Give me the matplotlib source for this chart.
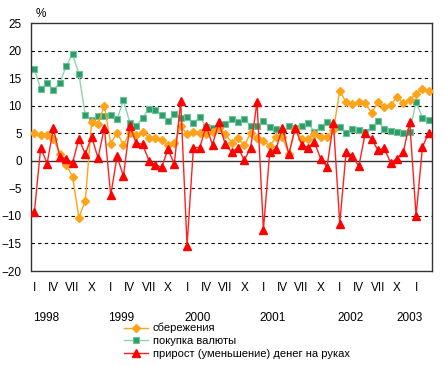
import matplotlib
matplotlib.use("Agg")
import matplotlib.pyplot as plt
import matplotlib.transforms as mtransforms

plt.rcParams['font.family'] = ['Liberation Sans', 'DejaVu Sans']

months = list(range(63))  # Jan 1998 .. Mar 2003

savings = [5.0, 4.7, 4.7, 4.0, 1.3, -0.7, -2.9, -10.3, -7.3, 7.0, 6.7, 10.0,
           3.1, 5.1, 2.9, 5.1, 4.6, 5.3, 4.2, 4.2, 3.8, 2.8, 3.2, 6.3,
           4.8, 5.3, 5.1, 4.8, 5.2, 6.0, 4.9, 3.3, 4.1, 2.8, 5.0, 4.1,
           3.6, 2.7, 4.3, 4.3, 1.2, 5.8, 4.0, 4.0, 4.9, 4.3, 4.4, 5.5,
           12.7, 10.6, 10.3, 10.7, 10.4, 8.7, 10.6, 9.8, 10.1, 11.6, 10.4, 11.0,
           12.2, 13.1, 12.7]

currency = [16.7, 13.0, 14.1, 12.9, 14.1, 17.2, 19.4, 15.7, 8.3, 7.4, 8.1, 8.1,
            8.3, 7.5, 11.0, 6.9, 6.3, 7.8, 9.4, 9.2, 8.3, 7.2, 8.5, 7.8,
            7.9, 6.8, 7.9, 6.2, 6.0, 6.0, 6.7, 7.5, 7.1, 7.6, 6.3, 6.3,
            7.2, 6.1, 5.8, 5.3, 6.3, 6.0, 6.3, 6.85, 5.3, 6.1, 7.1, 6.1,
            6.1, 5.0, 5.8, 5.6, 5.2, 6.1, 7.2, 5.8, 5.4, 5.2, 5.1, 5.3,
            10.7, 7.8, 7.4]

cash = [-9.3, 2.4, -0.5, 5.9, 0.7, 0.4, -0.4, 4.0, 1.2, 4.4, 0.5, 6.0,
        -6.3, 0.8, -2.8, 6.3, 3.2, 3.0, 0.05, -0.7, -1.2, 2.1, -0.6, 10.8,
        -15.4, 2.4, 2.4, 6.3, 2.9, 7.0, 3.0, 1.6, 2.4, 0.1, 2.4, 10.7,
        -12.5, 1.6, 2.2, 6.0, 1.2, 6.0, 2.9, 2.4, 3.4, 0.4, -1.1, 6.9,
        -11.4, 1.6, 0.9, -1.0, 5.0, 4.0, 1.9, 2.3, -0.4, 0.4, 1.6, 7.0,
        -10.0, 2.5, 5.1]

roman = ['I', 'IV', 'VII', 'X']
years = ['1998', '1999', '2000', '2001', '2002', '2003']
year_pos = [1.8, 13.6, 25.6, 37.5, 49.7, 59.0]

labels = ['сбережения', 'покупка валюты', 'прирост (уменьшение) денег на руках']

W, H = 447, 366
fig = plt.figure(figsize=(W / 100, H / 100), dpi=100)
ax = fig.add_axes([31.5 / W, 1 - 271 / H, (432 - 31.5) / W, (271 - 23) / H])

ax.set_xlim(-0.45, 62.5)
ax.set_ylim(-20, 25)

for yv in range(-15, 25, 5):
    if yv == 0:
        ax.axhline(0, color='#333333', lw=1.0, zorder=1)
    else:
        ax.axhline(yv, color='black', lw=0.8, ls=(0, (3, 3)), zorder=1)

l2, = ax.plot(months, currency, color='#8fd3b2', lw=1.0, marker='s', ms=5,
              mfc='#2e9c68', mec='#6cc49a', mew=0.8, zorder=2, label=labels[1])
l1, = ax.plot(months, savings, color='#ffa31a', lw=1.0, marker='D', ms=4.2,
              mfc='#ffa31a', mec='#ffa31a', zorder=3, label=labels[0])
l3, = ax.plot(months, cash, color='#ff2020', lw=1.0, marker='^', ms=6,
              mfc='#ff0000', mec='#ff0000', zorder=4, label=labels[2])

ax.set_yticks(range(-20, 30, 5))
ax.tick_params(axis='y', length=0, pad=7, labelsize=8.5)
xt = list(range(0, 63, 3))
ax.set_xticks(xt)
ax.set_xticklabels([roman[(t // 3) % 4] for t in xt])
ax.tick_params(axis='x', length=0, pad=8, labelsize=8.5)

for s in ax.spines.values():
    s.set_color('#333333')
    s.set_linewidth(1.0)

trans = mtransforms.blended_transform_factory(ax.transData, ax.transAxes)
for yp, yl in zip(year_pos, years):
    ax.text(yp, -0.19, yl, transform=trans, ha='center', va='center', fontsize=8.5)

fig.text(36 / W, 1 - 14 / H, '%', ha='left', va='center', fontsize=8.5)

leg = fig.legend(handles=[l1, l2, l3], loc='upper left',
                 bbox_to_anchor=(124 / W, 1 - 323 / H), frameon=False,
                 fontsize=8, handlelength=2.15, handletextpad=0.45,
                 labelspacing=0.25, borderpad=0, borderaxespad=0)

fig.savefig('out.png', dpi=100)
